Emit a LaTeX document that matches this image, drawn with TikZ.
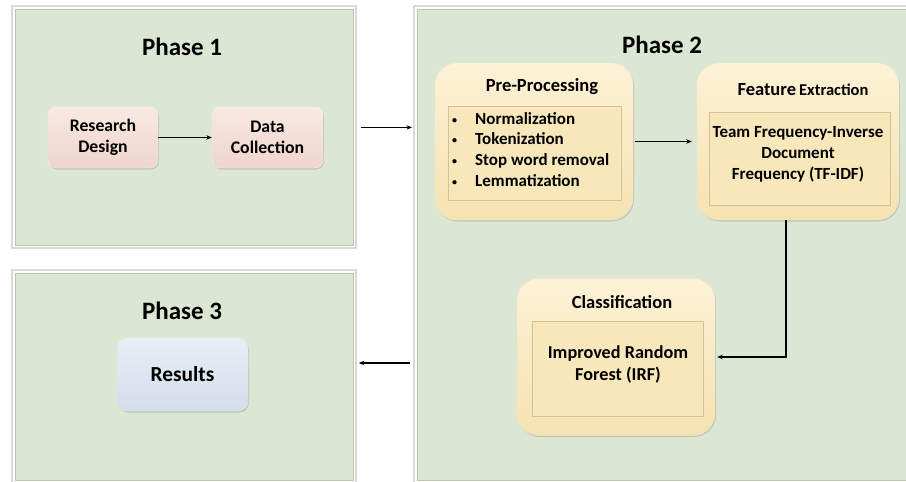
\documentclass[tikz,border=0pt]{standalone}
\usepackage{fontspec}
\setmainfont{Carlito}
\usetikzlibrary{arrows.meta,shadows,calc}
\definecolor{pgreen}{HTML}{DCE7D3}
\definecolor{pgreenedge}{HTML}{B9C8AC}
\definecolor{pinkT}{HTML}{F9E9E3}
\definecolor{pinkB}{HTML}{EED5CB}
\definecolor{yelT}{HTML}{FDF2D6}
\definecolor{yelB}{HTML}{F6E2B0}
\definecolor{yelIn}{HTML}{F9E7BC}
\definecolor{yelEdge}{HTML}{D4C294}
\definecolor{bluT}{HTML}{E8EEF6}
\definecolor{bluB}{HTML}{D3DDEA}
\newcommand{\smallbul}{\makebox[23pt][l]{\raisebox{1pt}{\fontsize{10}{10}\selectfont\textbullet}}}
\tikzset{
  panel/.style={draw=pgreenedge, line width=0.8pt, fill=pgreen, anchor=north west, inner sep=0pt},
  panelframe/.style={draw=black!15, line width=1.2pt},
  phasetitle/.style={font=\bfseries\fontsize{25}{27}\selectfont, inner sep=0pt},
  pinkbox/.style={rounded corners=8pt, top color=pinkT, bottom color=pinkB, draw=pinkB!90!black!20,
    drop shadow={opacity=0.3, shadow xshift=1pt, shadow yshift=-1.5pt},
    minimum width=110pt, minimum height=61pt, align=center, inner sep=0pt,
    font=\bfseries\fontsize{17.7}{21}\selectfont},
  bluebox/.style={rounded corners=10pt, top color=bluT, bottom color=bluB, draw=bluB!80!black!30,
    drop shadow={opacity=0.3, shadow xshift=1pt, shadow yshift=-1.5pt},
    minimum width=131pt, minimum height=73pt, align=center, inner sep=0pt,
    font=\bfseries\fontsize{21.4}{24}\selectfont},
  yelbox/.style={rounded corners=22pt, top color=yelT, bottom color=yelB, draw=yelEdge!40,
    drop shadow={opacity=0.3, shadow xshift=1pt, shadow yshift=-1.5pt},
    minimum width=198pt, minimum height=157pt, inner sep=0pt},
  innerbox/.style={fill=yelIn, draw=yelEdge, line width=0.6pt, inner sep=0pt},
  boxtitle/.style={font=\bfseries\fontsize{18.5}{21}\selectfont, inner sep=0pt},
  boxtext/.style={font=\bfseries\fontsize{17}{21}\selectfont, inner sep=0pt, align=center},
  arr/.style={-{Stealth[length=5.5pt,width=4.5pt]}, line width=1.4pt, black},
}
\begin{document}
\begin{tikzpicture}[x=1pt,y=-1pt]
\useasboundingbox[fill=white] (0,0) rectangle (906,482);

% panel frames
\draw[panelframe] (12,6) rectangle (356,248);
\draw[panelframe] (12,270) rectangle (356,484);
\draw[panelframe] (414,6) -- (908,6) (414,6) -- (414,484);

% panels
\node[panel, minimum width=338pt, minimum height=236pt] (p1) at (15,9) {};
\node[panel, minimum width=338pt, minimum height=207pt] (p3) at (15,273) {};
\node[panel, minimum width=492pt, minimum height=471pt] (p2) at (417,9) {};

% titles
\node[phasetitle] (t1) at (182,47) {Phase 1};
\node[phasetitle] (t2) at (662,45) {Phase 2};
\node[phasetitle] (t3) at (182,311) {Phase 3};

% phase 1
\node[pinkbox] (rd) at (103,137.5) {Research\\Design};
\node[pinkbox, minimum width=111pt] (dc) at (267.5,137.5) {Data\\Collection};
\draw[arr] (rd.east) -- (dc.west);

% phase 3
\node[bluebox] (res) at (182.5,374.5) {Results};

% phase 2 boxes
\node[yelbox] (pp) at (534,141.5) {};
\node[yelbox, minimum width=202pt] (fe) at (798,141.5) {};
\node[yelbox] (cl) at (616,357) {};

% inner rectangles
\node[innerbox, minimum width=173pt, minimum height=94pt] (ppin) at (534.5,153) {};
\node[innerbox, minimum width=181pt, minimum height=93pt] (fein) at (799.5,158.5) {};
\node[innerbox, minimum width=171pt, minimum height=95pt] (clin) at (617.5,368.5) {};

% titles of boxes
\node[boxtitle] (ppt) at (542,87) {Pre-Processing};
\node[boxtitle] (fet) at (803,90) {Feature\,{\fontsize{16.5}{19}\selectfont Extraction}};
\node[boxtitle] (clt) at (622,302) {Classification};

% contents
\node[inner sep=0pt, anchor=north west, align=left, font=\bfseries\fontsize{17}{20.7}\selectfont]
  (ppl) at (452,112) {\smallbul Normalization\\
  \smallbul Tokenization\\
  \smallbul Stop word removal\\
  \smallbul Lemmatization};
\node[boxtext] (fex) at (798,154) {Team Frequency-Inverse\\Document\\Frequency (TF-IDF)};
\node[boxtext, font=\bfseries\fontsize{18.2}{22}\selectfont] (clx) at (618,364) {Improved Random\\Forest (IRF)};

% connectors
\draw[arr] ([xshift=2pt]pp.east) -- ([xshift=-5pt]fe.west);
\draw[arr] ([xshift=-12pt]fe.south) |- ([xshift=2pt]cl.east);
\draw[arr] ([xshift=7pt]p1.east) -- ([xshift=-5pt]p1.east -| p2.west);
\draw[arr] ([xshift=-7pt,yshift=-6pt]p2.west |- cl.east) -- ([xshift=5pt,yshift=-6pt]p3.east |- cl.east);
\end{tikzpicture}
\end{document}
